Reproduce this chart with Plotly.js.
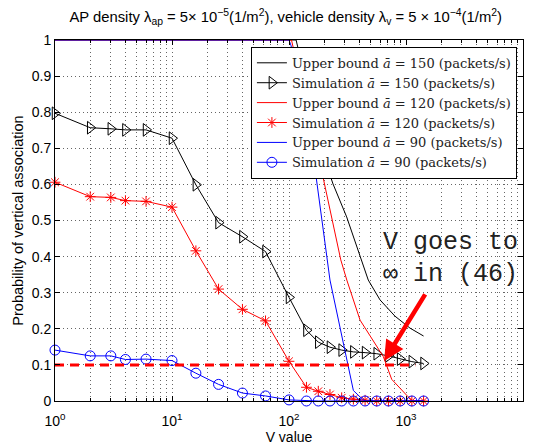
<!DOCTYPE html>
<html>
<head>
<meta charset="utf-8">
<script src="https://cdn.plot.ly/plotly-3.0.1.min.js"></script>
<style>html,body{margin:0;padding:0;background:#fff;}#chart{width:533px;height:447px;}</style>
</head>
<body>
<div id="chart"></div>
<script>
// Simulation V grid
const V = [1,2,3,4,6,10,16,25,40,63,100,141,178,224,282,355,447,562,708,891,1122,1413];
const sim150 = [0.797,0.757,0.754,0.751,0.751,0.728,0.599,0.494,0.455,0.414,0.287,0.196,0.163,0.149,0.141,0.136,0.134,0.131,0.125,0.116,0.109,0.104];
const sim120 = [0.606,0.566,0.564,0.555,0.553,0.537,0.416,0.310,0.254,0.222,0.110,0.038,0.027,0.018,0.009,0.005,0.002,0,0,0,0,0];
const sim90  = [0.141,0.125,0.125,0.115,0.116,0.112,0.077,0.046,0.022,0.014,0.003,0,0,0,0,0,0,0,0,0,0,0];
// Upper bound curves
const ub150V = [1,115,196,238,311,391,476,600,805,1081,1413];
const ub150P = [1,1,0.681,0.601,0.51,0.418,0.335,0.28,0.235,0.202,0.18];
const ub120V = [1,105,178,277,312,405,640,755,1040,1150,1413];
const ub120P = [1,1,0.681,0.391,0.335,0.224,0.123,0.06,0.012,0,0];
const ub90V  = [1,100,104,161,224,355,418,447,1413];
const ub90P  = [1,1,0.985,0.681,0.335,0.029,0.007,0,0];
// Threshold line
const thrV = [1,1200];
const thrP = [0.1,0.1];
// Axis ticks
const xTickVals = [1,10,100,1000,10000];
const xTickText = ['10<sup>0</sup>','10<sup>1</sup>','10<sup>2</sup>','10<sup>3</sup>','10<sup>4</sup>'];
const xMinor = [];
[1,10,100,1000].forEach(d => { for (let k = 2; k <= 9; k++) xMinor.push(k*d); });
const names = [
  'Upper bound <i>ā</i> = 150 (packets/s)',
  'Simulation <i>ā</i> = 150 (packets/s)',
  'Upper bound <i>ā</i> = 120 (packets/s)',
  'Simulation <i>ā</i> = 120 (packets/s)',
  'Upper bound <i>ā</i> = 90 (packets/s)',
  'Simulation <i>ā</i> = 90 (packets/s)'
];

const traces = [
  {x: ub150V, y: ub150P, name: names[0], mode: 'lines', line: {color: '#000', width: 1}, cliponaxis: false},
  {x: V, y: sim150, name: names[1], mode: 'lines+markers', line: {color: '#000', width: 1},
   marker: {symbol: 'triangle-right-open', size: 11, color: '#000', line: {width: 1}}, cliponaxis: false},
  {x: ub120V, y: ub120P, name: names[2], mode: 'lines', line: {color: '#ff0000', width: 1}, cliponaxis: false},
  {x: V, y: sim120, name: names[3], mode: 'lines+markers', line: {color: '#ff0000', width: 1},
   marker: {symbol: 'asterisk-open', size: 9, color: '#ff0000', line: {width: 1, color: '#ff0000'}}, cliponaxis: false},
  {x: ub90V, y: ub90P, name: names[4], mode: 'lines', line: {color: '#0000ff', width: 1}, cliponaxis: false},
  {x: V, y: sim90, name: names[5], mode: 'lines+markers', line: {color: '#0000ff', width: 1},
   marker: {symbol: 'circle-open', size: 10, color: '#0000ff', line: {width: 1}}, cliponaxis: false},
  {x: thrV, y: thrP, mode: 'lines', showlegend: false, line: {color: '#ff0000', width: 3, dash: '9px,6px'}, hoverinfo: 'skip'}
];

const axFont = {family: 'Liberation Sans, Arial, sans-serif', size: 14, color: '#000'};
const gridCol = '#666';
const layout = {
  width: 533, height: 447,
  margin: {l: 55, r: 10, t: 40, b: 46},
  paper_bgcolor: '#fff', plot_bgcolor: '#fff',
  font: {family: 'Liberation Sans, Arial, sans-serif', size: 14, color: '#000'},
  title: {
    text: 'AP density λ<sub>ap</sub> = 5× 10<sup>−5</sup>(1/m<sup>2</sup>), vehicle density λ<sub>v</sub> = 5 × 10<sup>−4</sup>(1/m<sup>2</sup>)',
    font: {family: 'Liberation Sans, Arial, sans-serif', size: 14.8, color: '#000'},
    x: 0.536, xanchor: 'center', y: 0.962, yanchor: 'middle'
  },
  xaxis: {
    type: 'log', range: [0, 4],
    tickmode: 'array', tickvals: xTickVals, ticktext: xTickText,
    ticks: 'inside', ticklen: 5, tickcolor: '#000', ticklabelstandoff: 7,
    showline: true, linecolor: '#000', linewidth: 1, mirror: 'allticks',
    showgrid: true, gridcolor: gridCol, griddash: '1px,3px', gridwidth: 1,
    minor: {tickmode: 'array', tickvals: xMinor, ticks: 'inside', ticklen: 3, tickcolor: '#000',
            showgrid: true, gridcolor: gridCol, griddash: '1px,3px', gridwidth: 1},
    zeroline: false, tickfont: axFont,
    title: {text: 'V value', font: axFont, standoff: 0},
    automargin: false
  },
  yaxis: {
    range: [0, 1], dtick: 0.1, tick0: 0,
    ticks: 'inside', ticklen: 5, tickcolor: '#000',
    showline: true, linecolor: '#000', linewidth: 1, mirror: 'allticks',
    showgrid: true, gridcolor: gridCol, griddash: '1px,3px', gridwidth: 1,
    zeroline: false, tickfont: axFont,
    title: {text: 'Probability of vertical association', font: {family: 'Liberation Sans, Arial, sans-serif', size: 14.5, color: '#000'}, standoff: 4},
    automargin: false
  },
  legend: {
    x: 0.987, xanchor: 'right', y: 0.981, yanchor: 'top',
    bgcolor: '#fff', bordercolor: '#000', borderwidth: 1,
    font: {family: 'DejaVu Serif, Liberation Serif, serif', size: 13, color: '#222'},
    tracegroupgap: 0
  },
  showlegend: true,
  annotations: [
    {x: Math.log10(650), y: 0.111, xref: 'x', yref: 'y', text: '', showarrow: true,
     arrowhead: 2, arrowsize: 0.9, arrowwidth: 4.5, arrowcolor: '#ff0000', ax: 42, ay: -68, standoff: 0},
    {x: Math.log10(610), y: 0.44, xref: 'x', yref: 'y', xanchor: 'left', yanchor: 'middle',
     text: 'V goes to', showarrow: false,
     font: {family: 'Liberation Mono, Courier New, monospace', size: 25, color: '#222'}},
    {x: Math.log10(610), y: 0.35, xref: 'x', yref: 'y', xanchor: 'left', yanchor: 'middle',
     text: '∞ in (46)', showarrow: false,
     font: {family: 'Liberation Mono, Courier New, monospace', size: 25, color: '#222'}}
  ]
};

Plotly.newPlot('chart', traces, layout, {displayModeBar: false, staticPlot: true});
</script>
</body>
</html>
